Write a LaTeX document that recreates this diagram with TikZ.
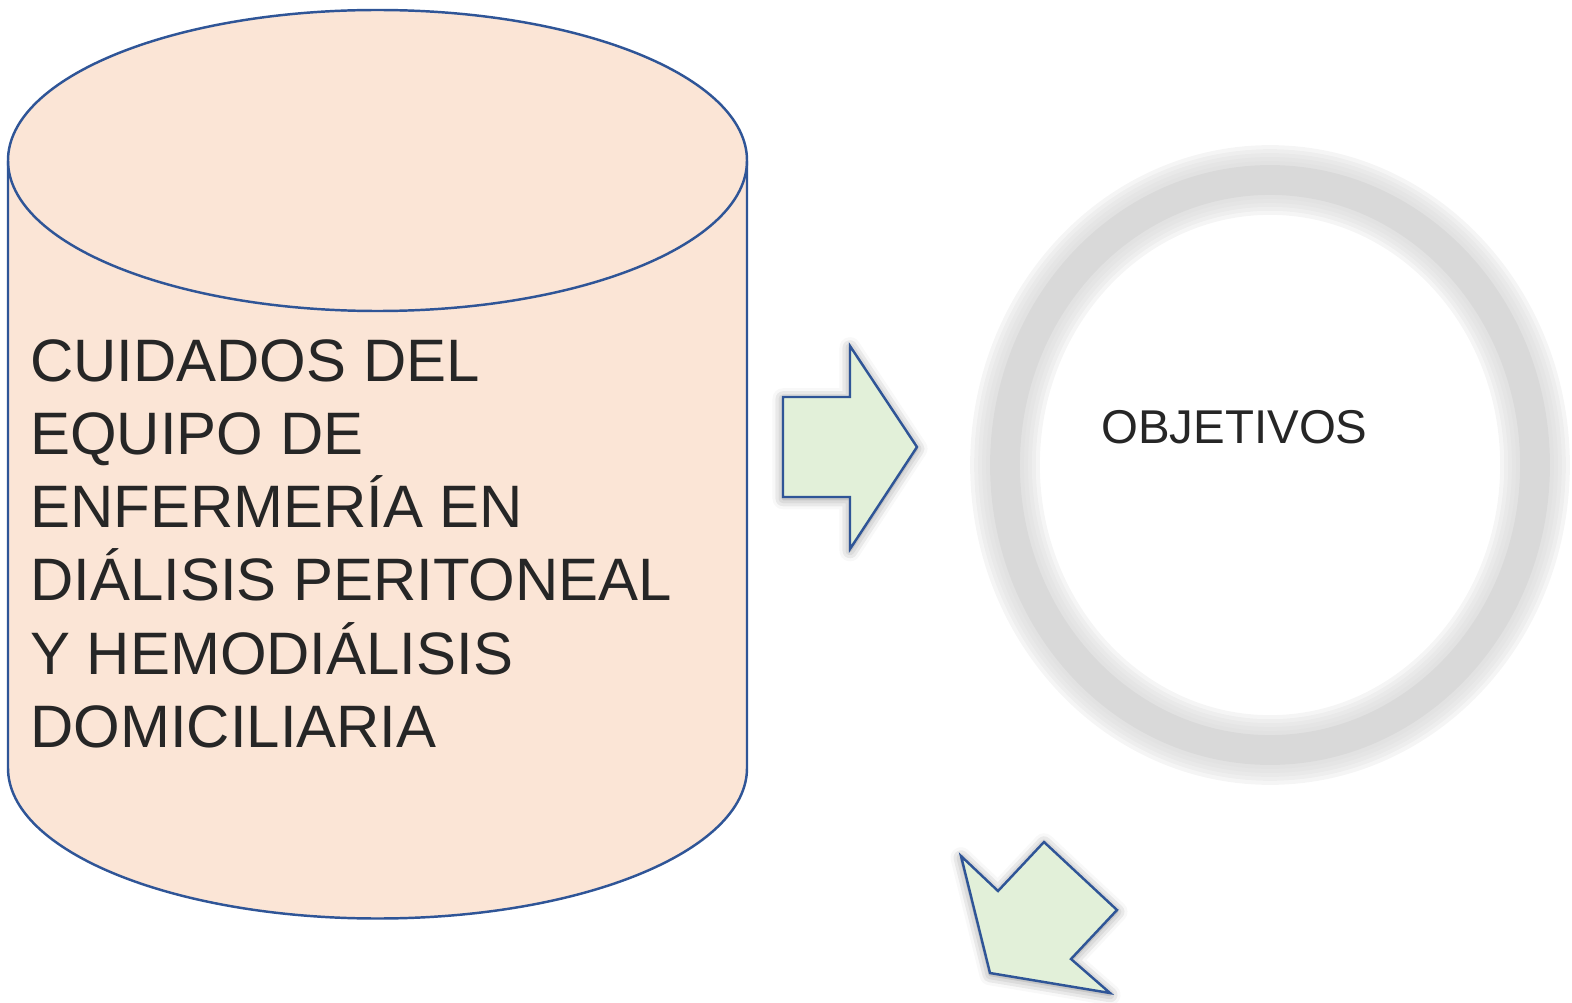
\documentclass[tikz,border=0pt]{standalone}
\usepackage{fontspec}
\setmainfont{Liberation Sans}
\usetikzlibrary{shadows.blur}
\definecolor{peach}{HTML}{FBE5D6}
\definecolor{leaf}{HTML}{E2F0D9}
\definecolor{navy}{HTML}{2F5597}
\definecolor{ink}{HTML}{262626}
\definecolor{ringgray}{HTML}{D9D9D9}
\tikzset{
        drum/.style={draw=navy, fill=peach, line width=1.4pt},
        bigarrow/.style={draw=navy, fill=leaf, line width=1.4pt, line join=miter,
            blur shadow={shadow xshift=0pt, shadow yshift=-1pt, shadow blur radius=6pt, shadow opacity=45}},
        halo/.style={draw=ringgray, opacity=0.25},
        title/.style={text=ink, inner sep=0pt, align=left, font=\fontsize{34.1}{41.7}\selectfont},
        label/.style={text=ink, inner sep=0pt, font=\fontsize{27}{32}\selectfont}
    }

\begin{document}
\begin{tikzpicture}[x=0.02cm, y=0.02cm]
            \useasboundingbox (0,0) rectangle (1572,1002);

            % cylinder
            \draw [drum] (8,841.5) -- (8,234)
                arc [start angle=180, end angle=360, x radius=369.5, y radius=150.5]
                -- (747,841.5)
                arc [start angle=0, end angle=180, x radius=369.5, y radius=150.5] -- cycle;
            \draw [drum, fill=none] (8,841.5)
                arc [start angle=180, end angle=360, x radius=369.5, y radius=150.5];
            % base anchor sits on the last line
            \node [title, anchor=base west] (cuidados) at (30, 254.5)
                {CUIDADOS DEL\\EQUIPO DE\\ENFERMERÍA EN\\DIÁLISIS PERITONEAL\\Y HEMODIÁLISIS\\DOMICILIARIA};

            % arrows
            \draw [bigarrow] (783,605) -- (850,605) -- (850,656) -- (917,555)
                -- (850,453) -- (850,505) -- (783,505) -- cycle;
            \draw [bigarrow] (961,146) -- (998,111) -- (1044,160) -- (1117,92)
                -- (1071,43) -- (1110,9) -- (990,29) -- cycle;

            % ring
            \coordinate (ring) at (1270,537);
            \foreach \w in {39.7,35.1,30.6,26.1,21.5}
                \draw [halo, line width=\w pt] (ring) ellipse [x radius=265, y radius=285];
            \draw [draw=ringgray, line width=17pt] (ring) ellipse [x radius=265, y radius=285];
            \node [label, anchor=base west] (objetivos) at (1101, 559) {OBJETIVOS};
        \end{tikzpicture}
\end{document}
